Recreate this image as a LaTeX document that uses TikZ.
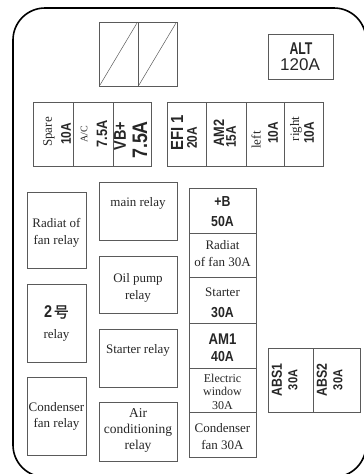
\documentclass[tikz,border=0pt]{standalone}
\usepackage{fontspec}
\setmainfont{Liberation Serif}
\newfontfamily\bsans[FakeStretch=0.85]{Liberation Sans}
\newfontfamily\plainsans{Liberation Sans}
\newfontfamily\cjkb[FakeBold=1.2]{Noto Sans CJK SC}
\definecolor{boxgray}{HTML}{5A5A5A}
\newcommand{\fs}[2]{\fontsize{#1}{#2}\selectfont}
\tikzset{
  boxline/.style={draw=boxgray, line width=0.8pt},
  outline/.style={draw=black, line width=1.6pt, rounded corners=32pt},
  txt/.style={inner sep=0pt, align=center, text=black!85},
  ser/.style={txt, font=\fs{13}{16.5}},
  bs/.style={txt, font={\bsans\bfseries\fs{#1}{#1}}},
  vser/.style={txt, rotate=90, font=\fs{#1}{#1}},
  vbs/.style={txt, rotate=90, font={\bsans\bfseries\fs{#1}{#1}}}
}
\begin{document}
\begin{tikzpicture}[x=1pt,y=-1pt]
\useasboundingbox (0,0) rectangle (364,474);
% outer housing
\draw[outline] (13,8) rectangle (366,477);

% relay squares at top
\draw[boxline, line width=0.6pt] (99,22) rectangle (138,86);
\draw[boxline, line width=0.6pt] (138,22) rectangle (177,86);
\draw[boxline, line width=0.5pt] (100,85) -- (137,23);
\draw[boxline, line width=0.5pt] (139,85) -- (176,23);

% ALT
\draw[boxline] (268,34) rectangle (333,79);
\node[txt, font={\bsans\bfseries\fs{17}{17}}, xscale=0.85] (alt) at (301,49) {ALT};
\node[txt, font={\plainsans\fs{17}{17}}] (alt120) at (300,65) {120A};

% fuse row left
\draw[boxline] (33,102) rectangle (151,166);
\draw[boxline] (73,102) -- (73,166);
\draw[boxline] (113,102) -- (113,166);
\node[vser=13] (spare) at (49,132) {Spare};
\node[vbs=14] (spare10) at (66,134) {10A};
\node[vser=10] (ac) at (84,134) {A/C};
\node[vbs=15] (ac75) at (102,134) {7.5A};
\node[vbs=17] (vb) at (120,136) {VB+};
\node[vbs=21] (vb75) at (140,140) {7.5A};

% fuse row right
\draw[boxline] (167,102) rectangle (323,166);
\draw[boxline] (206,102) -- (206,166);
\draw[boxline] (246,102) -- (246,166);
\draw[boxline] (284,102) -- (284,166);
\node[vbs=17.5] (efi) at (177,133) {EFI 1};
\node[vbs=14] (efi20) at (192,138) {20A};
\node[vbs=15] (am2) at (219,133) {AM2};
\node[vbs=14] (am215) at (231,137) {15A};
\node[vser=13] (left) at (256,140) {left};
\node[vbs=14] (left10) at (273,133) {10A};
\node[vser=13] (right) at (296,129) {right};
\node[vbs=14] (right10) at (309,133) {10A};

% left column relays
\draw[boxline] (27,192) rectangle (86,268);
\node[ser] (rfr) at (56.5,233) {Radiat of\\fan relay};
\draw[boxline] (27,284) rectangle (86,362);
\node[txt] (two) at (56.5,312) {{\bsans\bfseries\fs{17}{17}2}\,{\cjkb\fs{15}{15}号}};
\node[ser] (tworelay) at (56.5,335) {relay};
\draw[boxline] (27,377) rectangle (86,455);
\node[ser, font=\fs{13}{16}] (cfr) at (56.5,416.5) {Condenser\\fan relay};

% middle column relays
\draw[boxline] (99,182) rectangle (177,240);
\node[ser] (mainrelay) at (138,203) {main relay};
\draw[boxline] (99,256) rectangle (177,313);
\node[ser] (oil) at (138,288) {Oil pump\\relay};
\draw[boxline] (99,329) rectangle (177,387);
\node[ser] (strelay) at (138,350) {Starter relay};
\draw[boxline] (99,402) rectangle (177,461);
\node[ser, font=\fs{13.5}{16}] (air) at (138,430.5) {Air\\conditioning\\relay};

% right column fuses
\draw[boxline] (189,188) rectangle (256,457);
\draw[boxline] (189,233) -- (256,233);
\draw[boxline] (189,277) -- (256,277);
\draw[boxline] (189,323) -- (256,323);
\draw[boxline] (189,368) -- (256,368);
\draw[boxline] (189,412) -- (256,412);
\node[bs=14.5] (pb) at (222.5,202) {+B};
\node[bs=14.5] (pb50) at (222.5,222) {50A};
\node[ser, font=\fs{13}{17}] (rad) at (222.5,253.5) {Radiat\\of fan 30A};
\node[ser] (st) at (222.5,292) {Starter};
\node[bs=14.5] (st30) at (222.5,313) {30A};
\node[bs=15.5] (am1) at (222.5,339) {AM1};
\node[bs=14.5] (am140) at (222.5,357) {40A};
\node[ser, font=\fs{12}{13.5}] (ew) at (222.5,391.5) {Electric\\window\\30A};
\node[ser, font=\fs{13}{17}] (cf) at (222.5,436.5) {Condenser\\fan 30A};

% ABS
\draw[boxline] (268,348) rectangle (360,412);
\draw[boxline] (313,348) -- (313,412);
\node[vbs=14.5] (abs1) at (277,380) {ABS1};
\node[vbs=13] (abs130) at (293,380) {30A};
\node[vbs=14.5] (abs2) at (322,380) {ABS2};
\node[vbs=13] (abs230) at (338,380) {30A};
\end{tikzpicture}
\end{document}
